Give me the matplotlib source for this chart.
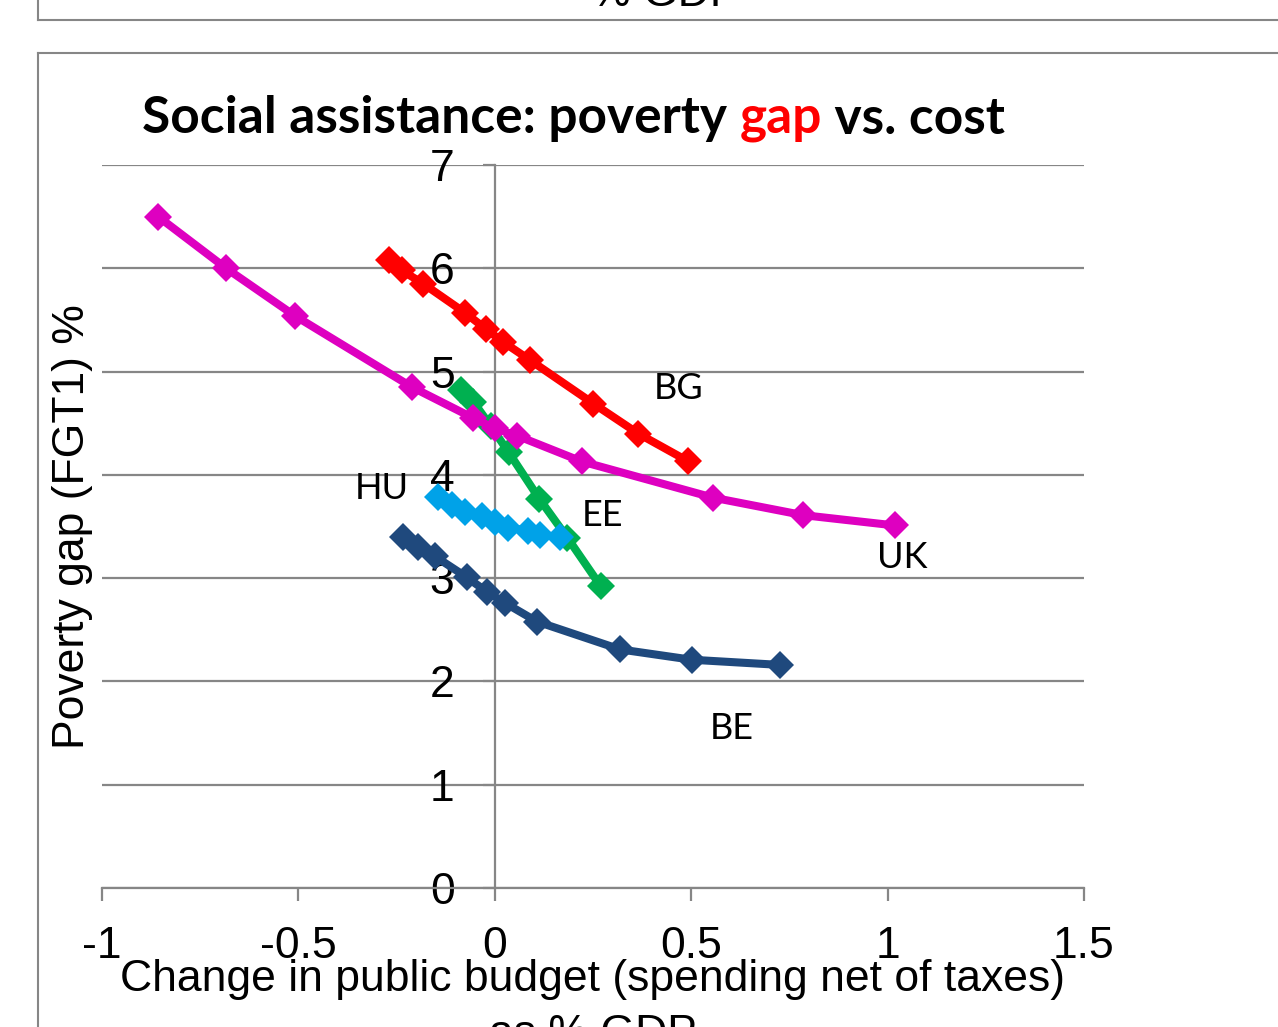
import matplotlib
matplotlib.use('Agg')
import matplotlib.pyplot as plt
from matplotlib.lines import Line2D

# Change in public budget (% GDP) vs poverty gap (FGT1, %) per country
uk_x = [-0.857, -0.684, -0.509, -0.211, -0.055, 0.0, 0.056, 0.221, 0.555, 0.785, 1.019]
uk_y = [6.50, 6.00, 5.54, 4.85, 4.55, 4.45, 4.38, 4.13, 3.78, 3.61, 3.51]

bg_x = [-0.269, -0.237, -0.182, -0.076, -0.022, 0.020, 0.090, 0.251, 0.365, 0.493]
bg_y = [6.08, 5.98, 5.85, 5.57, 5.41, 5.29, 5.11, 4.69, 4.40, 4.13]

ee_x = [-0.085, -0.055, -0.010, 0.035, 0.113, 0.185, 0.270]
ee_y = [4.82, 4.71, 4.47, 4.22, 3.77, 3.39, 2.92]

hu_x = [-0.144, -0.110, -0.075, -0.033, 0.0, 0.034, 0.085, 0.115, 0.165]
hu_y = [3.79, 3.71, 3.64, 3.60, 3.54, 3.49, 3.46, 3.42, 3.40]

be_x = [-0.233, -0.195, -0.152, -0.072, -0.021, 0.026, 0.107, 0.319, 0.501, 0.726]
be_y = [3.40, 3.30, 3.21, 3.01, 2.87, 2.76, 2.58, 2.31, 2.21, 2.16]

x_ticks = [-1, -0.5, 0, 0.5, 1, 1.5]
x_tick_labels = ['-1', '-0.5', '0', '0.5', '1', '1.5']
y_ticks = [0, 1, 2, 3, 4, 5, 6, 7]

W, H = 1278, 1027
fig = plt.figure(figsize=(W / 100, H / 100), dpi=100)
fig.patch.set_facecolor('white')

ax = fig.add_axes([102 / W, 1 - 888 / H, 982 / W, 723 / H])

grey = '#868686'
series = [
    (be_x, be_y, '#1F497D', 'BE', (0.604, 1.54)),
    (ee_x, ee_y, '#00B050', 'EE', (0.275, 3.61)),
    (hu_x, hu_y, '#00A2E8', 'HU', (-0.287, 3.87)),
    (bg_x, bg_y, '#FF0000', 'BG', (0.467, 4.84)),
    (uk_x, uk_y, '#DE00C0', 'UK', (1.037, 3.20)),
]
for xs, ys, col, name, pos in series:
    ax.plot(xs, ys, color=col, lw=5.8, marker='D', ms=14.5,
            markeredgewidth=0, solid_joinstyle='round', zorder=3)
    ax.text(pos[0], pos[1], name, fontsize=26, family='Lato',
            ha='center', va='center', color='black', zorder=4)

ax.set_xlim(-1, 1.5)
ax.set_ylim(0, 7)
ax.set_xticks(x_ticks)
ax.set_xticklabels(x_tick_labels)
ax.set_yticks(y_ticks)

ax.spines['top'].set_visible(False)
ax.spines['right'].set_visible(False)
ax.spines['left'].set_position(('data', 0))
ax.spines['bottom'].set_position(('data', 0))
for s in ('left', 'bottom'):
    ax.spines[s].set_color(grey)
    ax.spines[s].set_linewidth(1.6)
    ax.spines[s].set_zorder(1)

ax.yaxis.grid(True, color=grey, lw=1.6, zorder=0)
ax.set_axisbelow(True)
ax.tick_params(axis='x', direction='out', length=9, width=1.6, color=grey,
               pad=18, labelsize=32)
ax.tick_params(axis='y', direction='out', length=9, width=1.6, color=grey,
               pad=20, labelsize=32)
for lab in ax.get_xticklabels() + ax.get_yticklabels():
    lab.set_family('Liberation Sans')

# axis titles
fig.text(73 / W, 1 - 527 / H, 'Poverty gap (FGT1) %', rotation=90,
         ha='center', va='center', fontsize=32, family='Liberation Sans')
fig.text(593 / W, 1 - 980 / H, 'Change in public budget (spending net of taxes)',
         ha='center', va='center', fontsize=32, family='Liberation Sans')
fig.text(593 / W, 1 - 1034 / H, 'as % GDP',
         ha='center', va='center', fontsize=32, family='Liberation Sans')
# caption of the chart above, mostly off the top edge
fig.text(665 / W, 1 - (-5) / H, '% GDP',
         ha='center', va='center', fontsize=32, family='Liberation Sans')

# chart frames
fig.add_artist(Line2D([38 / W, 38 / W], [1, 1 - 20 / H], color=grey, lw=1.5))
fig.add_artist(Line2D([38 / W, 1], [1 - 20 / H, 1 - 20 / H], color=grey, lw=1.5))
fig.add_artist(Line2D([38 / W, 1], [1 - 53 / H, 1 - 53 / H], color=grey, lw=1.5))
fig.add_artist(Line2D([38 / W, 38 / W], [1 - 53 / H, 0], color=grey, lw=1.5))

# title with the word "gap" in red
parts = [('Social assistance: poverty ', 'black'), ('gap', '#FF0000'), (' vs. cost', 'black')]
renderer = fig.canvas.get_renderer()
x0 = 142
for txt, col in parts:
    t = fig.text(x0 / W, 1 - 119 / H, txt, color=col, fontsize=37,
                 fontweight='bold', family='Lato', ha='left', va='center')
    bb = t.get_window_extent(renderer=renderer)
    x0 += bb.width

fig.savefig('out.png', dpi=100, facecolor='white')
